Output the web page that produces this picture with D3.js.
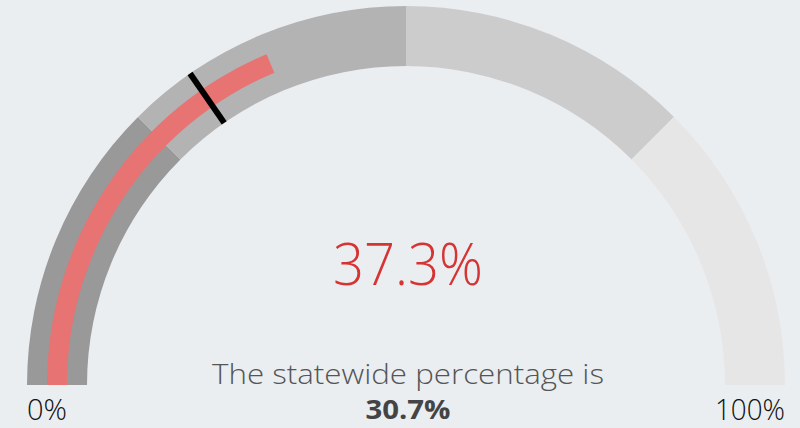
<!DOCTYPE html>
<html>
<head>
<meta charset="utf-8">
<script src="https://cdn.jsdelivr.net/npm/d3@7"></script>
<style>
  body { margin: 0; background: #eaeef1; }
  svg { display: block; font-family: "Open Sans", "Noto Sans", sans-serif; }
</style>
</head>
<body>
<div id="chart"></div>
<script>
var width = 800,
    height = 428;

// gauge bands, in percent
var bandStops = [0, 25, 50, 75, 100];
var bandColors = ["#999999", "#b3b3b3", "#cccccc", "#e6e6e6"];
var countyValue = 37.3;
var statewideValue = 30.7;
var axisLabels = ["0%", "100%"];

var cx = 406, cy = 385,
    outerR = 379, innerR = 319,
    barOuter = 359, barInner = 339;

var angle = d3.scaleLinear()
    .domain([0, 100])
    .range([-Math.PI / 2, Math.PI / 2]);

var svg = d3.select("#chart").append("svg")
    .attr("width", width)
    .attr("height", height);

var g = svg.append("g")
    .attr("transform", "translate(" + cx + "," + cy + ")");

var bandArc = d3.arc()
    .innerRadius(innerR)
    .outerRadius(outerR);

var bands = d3.range(bandColors.length).map(function(i) {
    return {start: bandStops[i], end: bandStops[i + 1], color: bandColors[i]};
});

g.selectAll(".band")
    .data(bands)
  .enter().append("path")
    .attr("class", "band")
    .attr("d", function(d) { return bandArc({startAngle: angle(d.start), endAngle: angle(d.end)}); })
    .attr("fill", function(d) { return d.color; });

// value bar
g.append("path")
    .attr("d", d3.arc()
        .innerRadius(barInner)
        .outerRadius(barOuter)({startAngle: angle(0), endAngle: angle(countyValue)}))
    .attr("fill", "#e77373");

// statewide marker
var p0 = d3.pointRadial(angle(statewideValue), innerR),
    p1 = d3.pointRadial(angle(statewideValue), outerR);
g.append("line")
    .attr("x1", p0[0]).attr("y1", p0[1])
    .attr("x2", p1[0]).attr("y2", p1[1])
    .attr("stroke", "#000")
    .attr("stroke-width", 6);

// texts
svg.append("text")
    .attr("x", 408)
    .attr("y", 285)
    .attr("text-anchor", "middle")
    .attr("font-size", 58)
    .attr("font-weight", 300)
    .attr("fill", "#d63333")
    .attr("textLength", 150)
    .attr("lengthAdjust", "spacingAndGlyphs")
    .text(countyValue.toFixed(1) + "%");

svg.append("text")
    .attr("x", 408)
    .attr("y", 384)
    .attr("text-anchor", "middle")
    .attr("font-size", 28)
    .attr("font-weight", 300)
    .attr("fill", "#555")
    .attr("textLength", 392)
    .attr("lengthAdjust", "spacingAndGlyphs")
    .text("The statewide percentage is");

svg.append("text")
    .attr("x", 408)
    .attr("y", 419)
    .attr("text-anchor", "middle")
    .attr("font-size", 26)
    .attr("font-weight", 700)
    .attr("fill", "#444")
    .attr("textLength", 85)
    .attr("lengthAdjust", "spacingAndGlyphs")
    .text(statewideValue.toFixed(1) + "%");

var labelWidths = [40, 70];
svg.selectAll(".axis-label")
    .data(axisLabels)
  .enter().append("text")
    .attr("class", "axis-label")
    .attr("x", function(d, i) { return cx + (i === 0 ? -outerR : outerR - labelWidths[i]); })
    .attr("y", 420)
    .attr("font-size", 29)
    .attr("font-weight", 300)
    .attr("fill", "#111")
    .attr("textLength", function(d, i) { return labelWidths[i]; })
    .attr("lengthAdjust", "spacingAndGlyphs")
    .text(function(d) { return d; });
</script>
</body>
</html>
